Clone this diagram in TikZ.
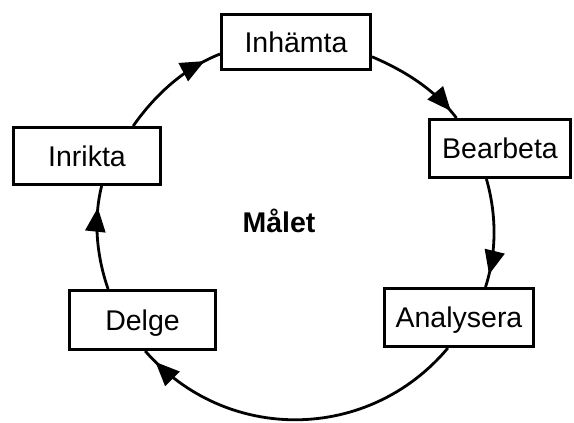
\documentclass[tikz,border=0pt]{standalone}
\usepackage{fontspec}
\setmainfont{Liberation Sans}
\usetikzlibrary{arrows.meta,decorations.markings}

\tikzset{
	ruta/.style={draw, line width=3pt, fill=white, inner sep=0pt,
		font=\fontsize{28.5}{34}\selectfont, text height=20.4pt, text depth=0pt},
	flow/.style={line width=2.8pt, looseness=0.87},
	pilspets/.tip={Triangle[length=24pt,width=20pt]},
	tipat/.style={postaction={decorate, decoration={markings,
		mark=at position #1 with {\arrow{pilspets}}}}}
}

\begin{document}
\begin{tikzpicture}[x=1pt,y=1pt]
		\useasboundingbox (0,0) rectangle (574,-423);
		
		%RUTOR
		\node[ruta, minimum width=149pt, minimum height=55pt] (inhamta) at (296,-42) {Inhämta};
		\node[ruta, minimum width=141pt, minimum height=58pt] (bearbeta) at (500,-148.5) {Bearbeta};
		\node[ruta, minimum width=149pt, minimum height=58pt] (analysera) at (459,-317.5) {Analysera};
		\node[ruta, minimum width=146pt, minimum height=59pt] (delge) at (142.5,-320) {Delge};
		\node[ruta, minimum width=147pt, minimum height=57pt] (inrikta) at (87,-156) {Inrikta};
		
		%MITTEN
		\node[anchor=base, font=\fontsize{28.5}{34}\selectfont\bfseries] (malet) at (279,-232) {Målet};
		
		%PILAR
		\draw[flow, tipat=-17pt] (inrikta.33.7) to[out=55, in=201.5] (inhamta.189.7);
		\draw[flow, tipat=-9pt] (inhamta.-11.1) to[out=-23, in=127] (bearbeta.145.3);
		\draw[flow, tipat=-13pt] (bearbeta.246.1) to[out=-74, in=72] (analysera.49.5);
		\draw[flow, tipat=-15pt, looseness=1.04] (analysera.250.2) to[out=230, in=311] (delge.275);
		\draw[flow, tipat=-22pt] (delge.138.9) to[out=109, in=256] (inrikta.296.6);
	\end{tikzpicture}
\end{document}
